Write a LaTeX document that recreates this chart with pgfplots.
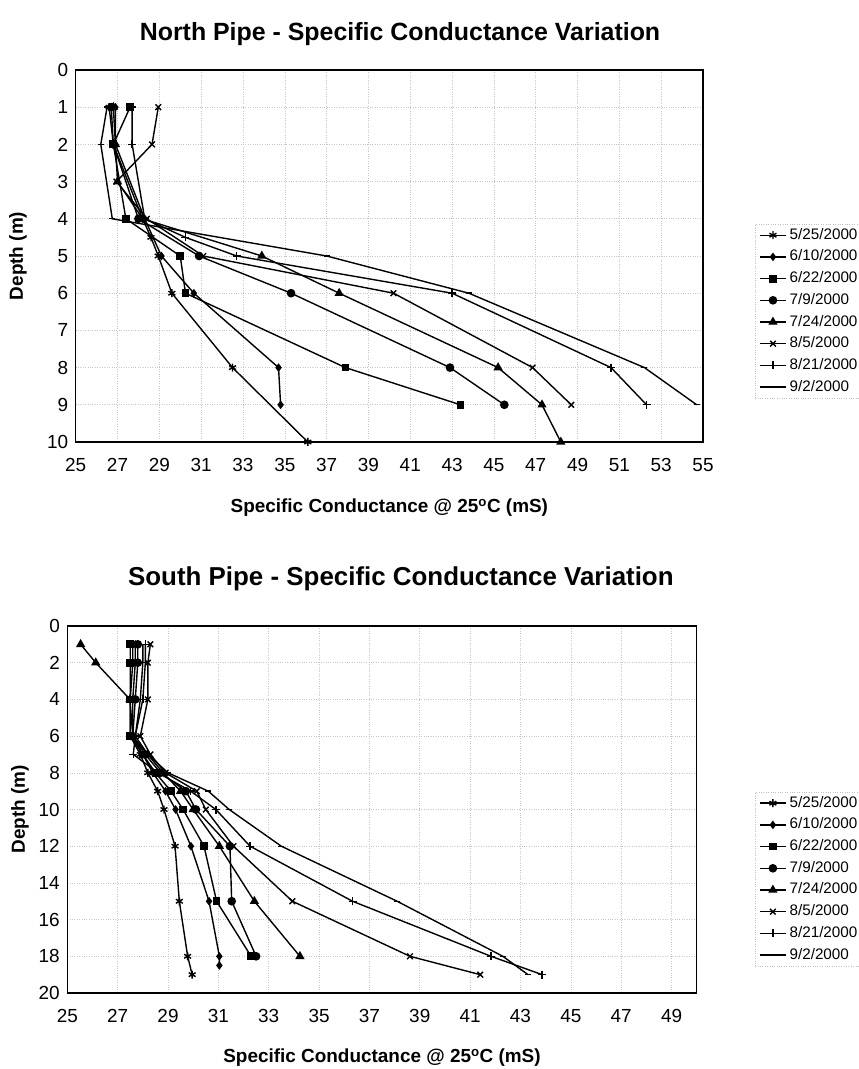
\documentclass[border=0pt]{standalone}
\usepackage{fontspec}
\setmainfont{Liberation Sans}
\usepackage{pgfplots}
\pgfplotsset{compat=1.18}

\pgfplotsset{
  pipe/.style={
    scale only axis,
    y dir=reverse,
    axis line style={line width=1.1bp},
    major tick length=0pt,
    grid=major,
    grid style={dotted, black!22, line width=0.6bp},
    /pgf/number format/assume math mode=true,
    tick label style={font=\fontsize{19}{22}\selectfont},
    xticklabel style={yshift=-13bp},
    yticklabel style={xshift=-4bp},
    label style={font=\bfseries\fontsize{19}{22}\selectfont},
    xlabel={Specific Conductance @ 25\textsuperscript{o}C (mS)},
    ylabel={Depth (m)},
    xlabel style={at={(0.5,-0.19)}, anchor=base},
    legend cell align=left,
    legend style={font=\fontsize{15.3}{18}\selectfont, draw=black!25, dotted,
      inner sep=4bp, row sep=7.7bp, column sep=3bp,
      nodes={inner sep=0pt, text height=11bp, text depth=3bp, solid}},
    legend image code/.code={\draw[mark repeat=2,mark phase=2,#1]
      plot coordinates {(0bp,0bp)(13bp,0bp)(26bp,0bp)};},
    every axis plot/.append style={black, line width=1.4bp, mark size=3.6bp, mark options={solid, fill=black}},
  }
}

\begin{document}
\begin{tikzpicture}
\path[use as bounding box] (0,0) rectangle (859bp,1069bp);

% North pipe
\begin{axis}[pipe,
  at={(75.7bp,627bp)}, anchor=south west,
  width=627.3bp, height=372bp,
  xmin=25, xmax=55, ymin=0, ymax=10,
  xtick={25,27,...,55}, ytick={0,1,...,10},
  title={North Pipe - Specific Conductance Variation},
  title style={at={(0.517,1.062)}, anchor=base, font=\bfseries\fontsize{25}{28}\selectfont},
  ylabel style={at={(-0.092,0.5)}, anchor=center},
  legend style={at={(1.083,0.586)}, anchor=north west},
]
\addplot[mark=asterisk, mark size=4bp] coordinates {(26.6,1)(26.8,2)(28.2,4)(28.6,4.5)(28.95,5)(29.6,6)(32.5,8)(36.1,10)};
\addlegendentry{5/25/2000}
\addplot[mark=diamond*, mark size=3.2bp] coordinates {(26.9,1)(26.9,2)(28.3,4)(29.1,5)(30.65,6)(34.7,8)(34.8,9)};
\addlegendentry{6/10/2000}
\addplot[mark=square*, mark size=3.2bp] coordinates {(27.6,1)(26.8,2)(27.4,4)(30.0,5)(30.25,6)(37.9,8)(43.4,9)};
\addlegendentry{6/22/2000}
\addplot[mark=*] coordinates {(26.7,1)(26.8,2)(28.0,4)(30.9,5)(35.3,6)(42.9,8)(45.5,9)};
\addlegendentry{7/9/2000}
\addplot[mark=triangle*, mark size=4bp] coordinates {(26.8,1)(26.9,2)(27.0,3)(28.2,4)(33.9,5)(37.6,6)(45.2,8)(47.3,9)(48.2,10)};
\addlegendentry{7/24/2000}
\addplot[mark=x, mark size=4bp] coordinates {(28.95,1)(28.65,2)(26.95,3)(28.4,4)(31.1,5)(40.2,6)(46.85,8)(48.7,9)};
\addlegendentry{8/5/2000}
\addplot[mark=+, mark size=4bp] coordinates {(27.7,1)(27.7,2)(28.3,4)(30.25,4.5)(32.7,5)(43.0,6)(50.6,8)(52.3,9)};
\addlegendentry{8/21/2000}
\addplot[mark=-, mark size=3bp] coordinates {(26.5,1)(26.2,2)(26.75,4)(37.0,5)(43.8,6)(52.2,8)(54.7,9)};
\addlegendentry{9/2/2000}
\end{axis}

% South pipe
\begin{axis}[pipe,
  at={(67.3bp,76bp)}, anchor=south west,
  width=629.4bp, height=367bp,
  xmin=25, xmax=50, ymin=0, ymax=20,
  xtick={25,27,...,49}, ytick={0,2,...,20},
  title={South Pipe - Specific Conductance Variation},
  title style={at={(0.53,1.093)}, anchor=base, font=\bfseries\fontsize{26}{29}\selectfont},
  ylabel style={at={(-0.075,0.5)}, anchor=center},
  legend style={at={(1.0926,0.5477)}, anchor=north west},
]
\addplot[mark=asterisk, mark size=4bp] coordinates {(27.6,1)(27.6,2)(27.5,4)(27.5,6)(27.9,7)(28.2,8)(28.59,9)(28.84,10)(29.28,12)(29.45,15)(29.78,18)(29.96,19)};
\addlegendentry{5/25/2000}
\addplot[mark=diamond*, mark size=3.2bp] coordinates {(27.7,1)(27.7,2)(27.6,4)(27.6,6)(28.0,7)(28.4,8)(28.9,9)(29.3,10)(29.91,12)(30.63,15)(31.04,18)(31.04,18.5)};
\addlegendentry{6/10/2000}
\addplot[mark=square*, mark size=3.2bp] coordinates {(27.5,1)(27.5,2)(27.5,4)(27.5,6)(28.0,7)(28.5,8)(29.12,9)(29.6,10)(30.43,12)(30.93,15)(32.3,18)};
\addlegendentry{6/22/2000}
\addplot[mark=*] coordinates {(27.8,1)(27.8,2)(27.7,4)(27.6,6)(28.1,7)(28.7,8)(29.71,9)(30.11,10)(31.46,12)(31.53,15)(32.5,18)};
\addlegendentry{7/9/2000}
\addplot[mark=triangle*, mark size=4bp] coordinates {(25.53,1)(26.13,2)(27.49,4)(27.6,6)(28.2,7)(28.8,8)(29.5,9)(30.0,10)(31.04,12)(32.43,15)(34.24,18)};
\addlegendentry{7/24/2000}
\addplot[mark=x, mark size=4bp] coordinates {(28.3,1)(28.2,2)(28.2,4)(27.9,6)(28.3,7)(28.9,8)(30.14,9)(30.5,10)(31.6,12)(33.94,15)(38.61,18)(41.4,19)};
\addlegendentry{8/5/2000}
\addplot[mark=+, mark size=4bp] coordinates {(28.1,1)(28.1,2)(28.0,4)(27.7,6)(27.62,7)(28.6,8)(29.9,9)(30.9,10)(32.26,12)(36.33,15)(41.83,18)(43.86,19)};
\addlegendentry{8/21/2000}
\addplot[mark=-, mark size=3bp] coordinates {(28.0,1)(28.0,2)(27.9,4)(27.7,6)(28.2,7)(29.0,8)(30.6,9)(31.43,10)(33.5,12)(38.1,15)(42.3,18)(43.3,19)};
\addlegendentry{9/2/2000}
\end{axis}
\end{tikzpicture}
\end{document}
